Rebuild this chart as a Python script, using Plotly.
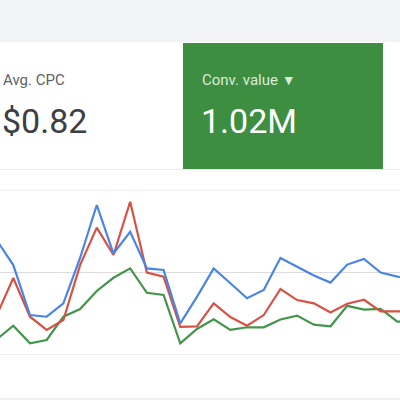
import plotly.graph_objects as go

# Day index (categories along the x axis)
days = [0, 1, 2, 3, 4, 5, 6, 7, 8, 9, 10, 11, 12, 13, 14, 15, 16, 17, 18, 19, 20, 21, 22, 23, 24, 25]

# Series values (relative scale, 0-100)
blue_series = [69.7, 54.5, 24.2, 23.2, 31.3, 58.8, 90.9, 61.5, 74.7, 52.5, 51.5, 19.2, 35.2,
               52.5, 43.5, 34.4, 39.4, 58.8, 53.5, 48.2, 43.9, 54.8, 58.2, 50.0, 47.5, 46.1]
red_series = [23.9, 46.7, 23.2, 15.2, 21.2, 54.5, 77.2, 60.6, 92.9, 50.0, 47.5, 17.0, 17.3,
              31.3, 23.0, 17.8, 24.2, 40.0, 33.3, 31.3, 25.8, 31.1, 33.5, 26.5, 26.5, 26.1]
green_series = [9.4, 17.8, 7.1, 9.1, 23.2, 27.9, 38.8, 46.8, 52.5, 37.7, 36.4, 7.1, 15.8,
                21.6, 15.2, 16.8, 16.8, 21.5, 23.9, 18.4, 17.4, 29.8, 27.5, 28.0, 20.2, 20.0]

grid_vals = [50]
frame_vals = [0, 100]

card_label_1 = "Avg. CPC"
card_value_1 = "$0.82"
card_label_2 = "Conv. value"
card_value_2 = "1.02M"

fig = go.Figure()
for ys, col in [(green_series, "#43954a"), (red_series, "#d65244"), (blue_series, "#4a84e8")]:
    fig.add_trace(go.Scatter(x=days, y=ys, mode="lines",
                             line=dict(color=col, width=2.2), hoverinfo="skip",
                             showlegend=False))

# pixel -> paper helpers (plot area spans pixel y 190..355)
def py(p):
    return (355 - p) / 165.0

def px(p):
    return p / 400.0

shapes = [
    # top gray band
    dict(type="rect", xref="paper", yref="paper", x0=0, x1=1, y0=py(42), y1=py(-5),
         fillcolor="#f1f3f4", line=dict(width=0), layer="below"),
    # green card
    dict(type="rect", xref="paper", yref="paper", x0=px(183), x1=px(383), y0=py(169), y1=py(43),
         fillcolor="#3e8e41", line=dict(width=0), layer="below"),
    # separators
    dict(type="line", xref="paper", yref="paper", x0=0, x1=1, y0=py(169.5), y1=py(169.5),
         line=dict(color="#ececec", width=1.2), layer="below"),
    dict(type="line", xref="paper", yref="paper", x0=0, x1=1, y0=py(399), y1=py(399),
         line=dict(color="#e6e6e6", width=1.2), layer="below"),
]
for v in frame_vals:
    shapes.append(dict(type="line", xref="paper", yref="y", x0=0, x1=1, y0=v, y1=v,
                       line=dict(color="#ebebeb", width=1.5), layer="below"))

annotations = [
    dict(text=card_label_1, x=px(1), y=py(80), xref="paper", yref="paper",
         xanchor="left", yanchor="middle", showarrow=False,
         font=dict(family="Roboto", size=15, color="#5f6368")),
    dict(text=card_value_1, x=px(0), y=py(121), xref="paper", yref="paper",
         xanchor="left", yanchor="middle", showarrow=False,
         font=dict(family="Roboto", size=34, color="#3c4043")),
    dict(text=card_label_2 + " <span style='font-size:14px'>\u25BC</span>",
         x=px(200), y=py(80), xref="paper", yref="paper",
         xanchor="left", yanchor="middle", showarrow=False,
         font=dict(family="Roboto", size=15, color="#d8ecd9")),
    dict(text=card_value_2, x=px(199), y=py(121), xref="paper", yref="paper",
         xanchor="left", yanchor="middle", showarrow=False,
         font=dict(family="Roboto", size=34, color="#ffffff")),
]

fig.update_layout(
    width=400, height=400,
    margin=dict(l=0, r=0, t=190, b=45, pad=0),
    paper_bgcolor="white", plot_bgcolor="white",
    shapes=shapes, annotations=annotations,
    xaxis=dict(range=[0.204, 24.16], visible=False, fixedrange=True),
    yaxis=dict(range=[0, 100], tickvals=grid_vals, showticklabels=False,
               showgrid=True, gridcolor="#dcdcdc", gridwidth=1.2,
               zeroline=False, fixedrange=True),
)

fig.write_html("out.html", config={"displayModeBar": False},
               post_script="document.body.style.margin='0';document.body.style.overflow='hidden';")
